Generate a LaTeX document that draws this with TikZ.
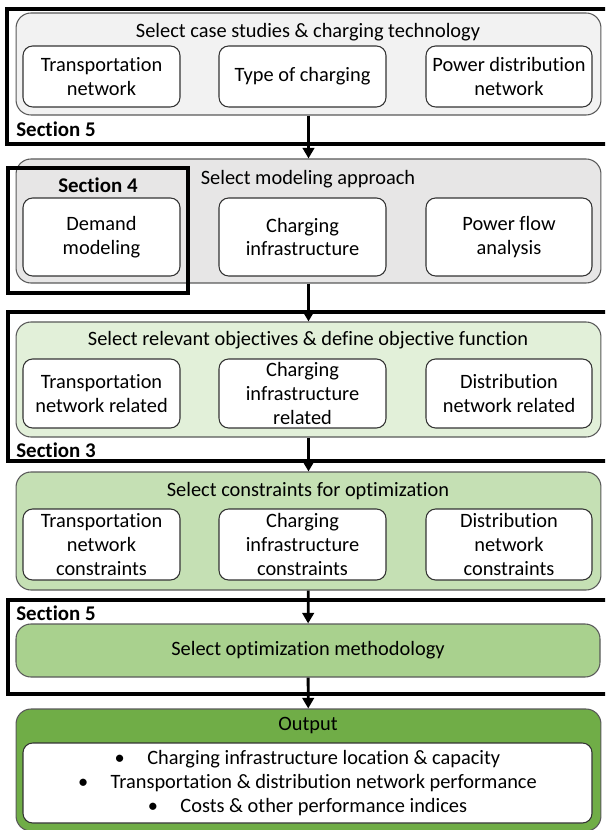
\documentclass[tikz,border=0pt]{standalone}
\usepackage{fontspec}
\setmainfont{Carlito}[Ligatures=NoCommon]
\usetikzlibrary{arrows.meta, positioning, calc}

\definecolor{grpA}{HTML}{F2F2F2}
\definecolor{grpB}{HTML}{E7E6E6}
\definecolor{grpC}{HTML}{E2F0D9}
\definecolor{grpD}{HTML}{C5E0B4}
\definecolor{grpE}{HTML}{A9D18E}
\definecolor{grpF}{HTML}{70AD47}

\tikzset{
  grp/.style={draw=black!65, line width=0.6pt, rounded corners=8.5pt, minimum width=11.7cm, inner sep=0pt},
  item/.style={draw=black!80, line width=0.6pt, fill=white, rounded corners=5.5pt, align=center, inner sep=0pt},
  ttl/.style={inner sep=0pt},
  secbox/.style={line width=2pt},
  seclbl/.style={font=\fontsize{11.9}{14}\selectfont\bfseries, inner sep=0pt},
  arr/.style={line width=1.6pt, -{Triangle[width=6.5pt,length=6pt]}}
}

\begin{document}
\begin{tikzpicture}[x=0.02cm, y=-0.02cm, font=\fontsize{11.6}{13.6}\selectfont]

\def\u{0.02cm}
\clip (0,0) rectangle (605,830);

% stage groups
\node[grp, fill=grpA, minimum height=102*\u] (cases) at (308.5,64) {};
\node[grp, fill=grpB, minimum height=124*\u] (models) at (308.5,221) {};
\node[grp, fill=grpC, minimum height=115*\u] (objs) at (308.5,379.5) {};
\node[grp, fill=grpD, minimum height=118*\u] (cons) at (308.5,531) {};
\node[grp, fill=grpE, minimum height=53*\u, minimum width=584*\u] (optim) at (308,650.5) {Select optimization methodology};
\node[grp, fill=grpF, minimum height=122*\u] (output) at (308.5,770) {};

% titles
\node[ttl] (casesT) at (308,32) {Select case studies \& charging technology};
\node[ttl] (modelsT) at (308,179) {Select modeling approach};
\node[ttl] (objsT) at (308,340) {Select relevant objectives \& define objective function};
\node[ttl] (consT) at (308,491) {Select constraints for optimization};
\node[ttl] (outputT) at (308,726) {Output};

% inner boxes
\node[item, minimum width=157*\u, minimum height=61*\u] (tn) at (101.5,76.5) {Transportation\\network};
\node[item, minimum width=167*\u, minimum height=61*\u] (tc) at (302.5,76.5) {Type of charging};
\node[item, minimum width=166*\u, minimum height=61*\u] (pd) at (509,76.5) {Power distribution\\network};

\node[item, minimum width=157*\u, minimum height=78*\u] (dm) at (101.5,237) {Demand\\modeling};
\node[item, minimum width=167*\u, minimum height=78*\u] (ci) at (302.5,237) {Charging\\infrastructure};
\node[item, minimum width=166*\u, minimum height=78*\u] (pf) at (509,237) {Power flow\\analysis};

\node[item, minimum width=157*\u, minimum height=69*\u] (tnr) at (101.5,393.5) {Transportation\\network related};
\node[item, minimum width=167*\u, minimum height=69*\u] (cir) at (302.5,393.5) {Charging\\infrastructure\\related};
\node[item, minimum width=166*\u, minimum height=69*\u] (dnr) at (509,393.5) {Distribution\\network related};

\node[item, minimum width=157*\u, minimum height=71*\u] (tnc) at (101.5,544.5) {Transportation\\network\\constraints};
\node[item, minimum width=167*\u, minimum height=71*\u] (cic) at (302.5,544.5) {Charging\\infrastructure\\constraints};
\node[item, minimum width=166*\u, minimum height=71*\u] (dnc) at (509,544.5) {Distribution\\network\\constraints};

\node[item, minimum width=569*\u, minimum height=80*\u] (res) at (307.5,783) {\textbullet\hspace{1.1em}Charging infrastructure location \& capacity\\
\textbullet\hspace{1.1em}Transportation \& distribution network performance\\
\textbullet\hspace{1.1em}Costs \& other performance indices};

% flow
\draw[arr] (cases) -- (models);
\draw[arr] (models) -- (objs);
\draw[arr] (objs) -- (cons);
\draw[arr] (cons) -- (optim);
\draw[arr] (optim) -- (output);

% sections
\draw[secbox] (7,9) rectangle (625,144);
\draw[secbox] (8,168) rectangle (188,293);
\draw[secbox] (8,312) rectangle (625,461);
\draw[secbox] (8,600) rectangle (625,694);

\node[seclbl, anchor=west] (sec5a) at (16,129) {Section 5};
\node[seclbl] (sec4) at (98,185) {Section 4};
\node[seclbl, anchor=west] (sec3) at (16,450) {Section 3};
\node[seclbl, anchor=west] (sec5b) at (16,613) {Section 5};

\end{tikzpicture}
\end{document}
